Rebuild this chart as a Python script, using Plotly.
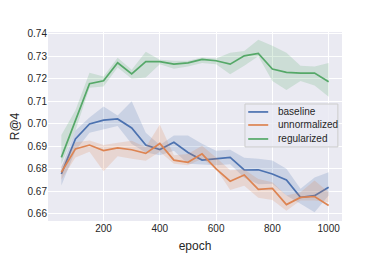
import plotly.graph_objects as go

epochs = [50, 100, 150, 200, 250, 300, 350, 400, 450, 500,
          550, 600, 650, 700, 750, 800, 850, 900, 950, 1000]

baseline = [0.6776, 0.6932, 0.6999, 0.7016, 0.7021, 0.6981, 0.6905, 0.6885, 0.6917, 0.6872,
            0.6838, 0.6843, 0.6850, 0.6794, 0.6795, 0.6776, 0.6750, 0.6672, 0.6680, 0.6717]
baseline_lo = [0.6725, 0.6880, 0.6960, 0.6975, 0.6990, 0.6910, 0.6872, 0.6860, 0.6880, 0.6822,
               0.6820, 0.6815, 0.6820, 0.6760, 0.6730, 0.6733, 0.6680, 0.6644, 0.6606, 0.6680]
baseline_hi = [0.6805, 0.6970, 0.7028, 0.7076, 0.7036, 0.7100, 0.6960, 0.6905, 0.6947, 0.6947,
               0.6911, 0.6880, 0.6884, 0.6849, 0.6844, 0.6836, 0.6800, 0.6711, 0.6761, 0.6784]

unnormalized = [0.6784, 0.6888, 0.6905, 0.6880, 0.6892, 0.6884, 0.6868, 0.6912, 0.6838, 0.6828,
                0.6866, 0.6799, 0.6744, 0.6772, 0.6708, 0.6712, 0.6640, 0.6672, 0.6676, 0.6636]
unnormalized_lo = [0.6750, 0.6850, 0.6875, 0.6788, 0.6855, 0.6844, 0.6835, 0.6875, 0.6822, 0.6815,
                   0.6844, 0.6800, 0.6705, 0.6724, 0.6670, 0.6660, 0.6613, 0.6658, 0.6658, 0.6650]
unnormalized_hi = [0.6810, 0.6917, 0.6925, 0.6905, 0.6915, 0.6924, 0.6895, 0.6996, 0.6860, 0.6865,
                   0.6902, 0.6850, 0.6793, 0.6796, 0.6754, 0.6739, 0.6680, 0.6695, 0.6747, 0.6695]

regularized = [0.6850, 0.7016, 0.7178, 0.7191, 0.7271, 0.7222, 0.7276, 0.7276, 0.7265, 0.7271,
               0.7286, 0.7280, 0.7265, 0.7302, 0.7313, 0.7243, 0.7228, 0.7225, 0.7225, 0.7187]
regularized_lo = [0.6820, 0.6970, 0.7160, 0.7165, 0.7250, 0.7200, 0.7205, 0.7265, 0.7245, 0.7255,
                  0.7270, 0.7265, 0.7220, 0.7258, 0.7300, 0.7190, 0.7150, 0.7190, 0.7170, 0.7120]
regularized_hi = [0.6950, 0.7060, 0.7227, 0.7210, 0.7293, 0.7240, 0.7320, 0.7285, 0.7280, 0.7280,
                  0.7295, 0.7290, 0.7316, 0.7324, 0.7373, 0.7347, 0.7316, 0.7258, 0.7254, 0.7270]

series_names = ["baseline", "unnormalized", "regularized"]
series = [
    (series_names[0], baseline, baseline_lo, baseline_hi, "#4c72b0", "rgba(76,114,176,0.2)"),
    (series_names[1], unnormalized, unnormalized_lo, unnormalized_hi, "#dd8452", "rgba(221,132,82,0.2)"),
    (series_names[2], regularized, regularized_lo, regularized_hi, "#55a868", "rgba(85,168,104,0.2)"),
]

x_ticks = [200, 400, 600, 800, 1000]
y_ticks = [0.66, 0.67, 0.68, 0.69, 0.70, 0.71, 0.72, 0.73, 0.74]

fig = go.Figure()
for name, mean, lo, hi, color, fillc in series:
    fig.add_trace(go.Scatter(
        x=epochs + epochs[::-1], y=hi + lo[::-1], fill="toself", fillcolor=fillc,
        line=dict(width=0), mode="lines", showlegend=False, hoverinfo="skip"))
    fig.add_trace(go.Scatter(
        x=epochs, y=mean, mode="lines", name=name, showlegend=False,
        line=dict(color=color, width=1.7)))

# manual legend (matplotlib-style compact box)
shapes = [dict(type="rect", xref="paper", yref="paper", x0=0.670, x1=0.986, y0=0.392, y1=0.619,
               fillcolor="rgba(234,234,242,0.8)", line=dict(color="#cccccc", width=1), layer="above")]
annotations = []
entry_y = [0.577, 0.508, 0.434]
for (name, _, _, _, color, _), yy in zip(series, entry_y):
    shapes.append(dict(type="line", xref="paper", yref="paper", x0=0.681, x1=0.749, y0=yy, y1=yy,
                       line=dict(color=color, width=1.7), layer="above"))
    annotations.append(dict(xref="paper", yref="paper", x=0.776, y=yy, text=name, showarrow=False,
                            xanchor="left", yanchor="middle", font=dict(size=10, color="#262626")))

font = "Liberation Sans, Arial, sans-serif"
# page body adds an 8px offset; figure is sized to fill the rest of the 381x254 window
fig.update_layout(
    width=373, height=246,
    margin=dict(l=40, r=39, t=24, b=33, autoexpand=False),
    paper_bgcolor="white", plot_bgcolor="#eaeaf2",
    font=dict(family=font, size=10, color="#262626"),
    showlegend=False,
    shapes=shapes, annotations=annotations,
    xaxis=dict(range=[2.5, 1047.5], tickvals=x_ticks, ticktext=[str(v) for v in x_ticks],
               showgrid=True, gridcolor="white", gridwidth=1, zeroline=False, automargin=False,
               showline=False, ticks="", title=dict(text="epoch", standoff=8)),
    yaxis=dict(range=[0.6567, 0.7408], tickvals=y_ticks, ticktext=["%.2f" % v for v in y_ticks],
               showgrid=True, gridcolor="white", gridwidth=1, zeroline=False, automargin=False,
               showline=False, ticks="", title=dict(text="R@4", standoff=5)),
)

fig.write_html("out.html")
